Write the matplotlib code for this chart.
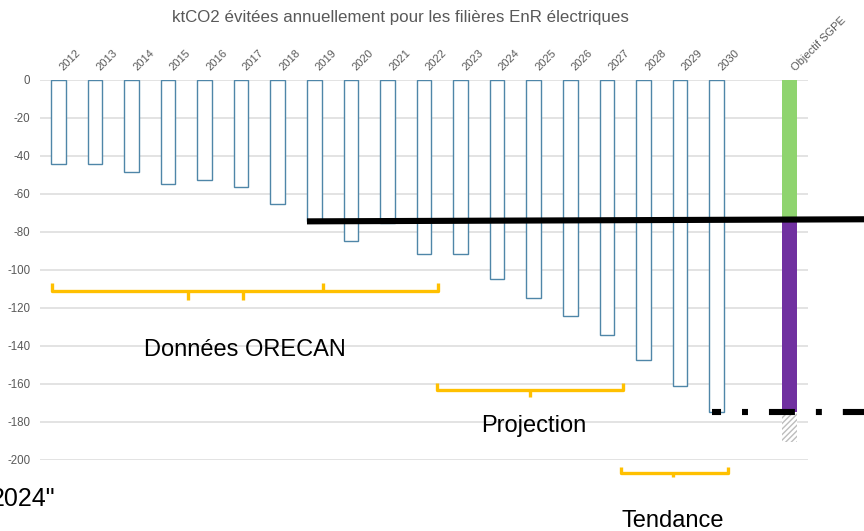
import numpy as np
import matplotlib
matplotlib.use("Agg")
import matplotlib.pyplot as plt
from matplotlib.transforms import ScaledTranslation

plt.rcParams['font.family'] = ['Liberation Sans', 'DejaVu Sans']
plt.rcParams['axes.unicode_minus'] = False
plt.rcParams['lines.scale_dashes'] = False

# donnees (ktCO2, negatif = evite)
years = [str(y) for y in range(2012, 2031)]
avoided = [-44, -44.2, -48.4, -54.7, -52.6, -56.5, -65.3, -74, -84.7, -75.3,
           -91.6, -91.6, -104.7, -114.7, -124.2, -134.2, -147.4, -161, -174.7]
objectif_label = "Objectif SGPE"
objectif_atteint = -73.3     # part verte
objectif_total = -174.7      # bas de la part violette
objectif_marge = -190.4      # bas de la zone hachuree

# ligne noire "niveau 2019" (gauche, droite)
niveau_2019 = [-74.4, -73.3]

# accolades jaunes : (debut, fin, hauteur)
brace_orecan = (-0.17, 10.38, -111.2)
brace_projection = (10.35, 15.43, -163.2)
brace_tendance = (15.39, 18.31, -206.7)

pos = np.arange(len(years))
pos_obj = len(years) + 1

fig = plt.figure(figsize=(8.64, 5.31), dpi=100)
ax = fig.add_axes([40/864, 71/531, 768/864, 380/531])

ax.bar(pos, avoided, width=0.4, facecolor='white', edgecolor='#4f86a8', linewidth=1.0, zorder=3)

ax.bar(pos_obj, objectif_atteint, width=0.4, color='#8fd46f', zorder=3)
ax.bar(pos_obj, objectif_total - objectif_atteint, bottom=objectif_atteint, width=0.4,
       color='#7030a0', zorder=3)
ax.bar(pos_obj, objectif_marge - objectif_total, bottom=objectif_total, width=0.4,
       facecolor='white', edgecolor='#bdbdbd', hatch='//////', linewidth=0, zorder=3)

ax.set_xlim(-0.5, 20.5)
ax.set_ylim(-200, 0)
ax.set_yticks(np.arange(-200, 1, 20))
ax.yaxis.grid(True, color='#dedede', linewidth=1.2)
ax.set_axisbelow(True)
for s in ax.spines.values():
    s.set_visible(False)

ax.xaxis.set_ticks_position('top')
ax.set_xticks(list(pos) + [pos_obj])
ax.set_xticklabels(years + [objectif_label], rotation=45, ha='left', va='bottom',
                   rotation_mode='anchor', fontsize=8, color='#595959')
ax.tick_params(axis='x', length=0, pad=5.2)
ax.tick_params(axis='y', length=0, pad=7, labelsize=8.3, labelcolor='#595959')
# decale les etiquettes des annees vers la droite comme dans Excel
shift = ScaledTranslation(7/100, 0, fig.dpi_scale_trans)
for lbl in ax.get_xticklabels():
    lbl.set_transform(lbl.get_transform() + shift)

# ligne noire pleine depuis 2019
ax.plot([pos[7] - 0.2, 22.1], niveau_2019, color='black', lw=4.4,
        solid_capstyle='butt', clip_on=False, zorder=5)
# ligne tiretee objectif 2030
ax.plot([pos[-1] - 0.13, 22.1], [objectif_total, objectif_total], color='black', lw=4.4,
        linestyle=(12.2, (18.7, 15.1, 4.3, 15.1)), dash_capstyle='butt',
        clip_on=False, zorder=5)


def brace(x0, x1, y, down=(), up=(), tip=4.5, tick=4.7):
    kw = dict(color='#ffc000', lw=2.4, clip_on=False, zorder=6,
              solid_joinstyle='round', solid_capstyle='butt')
    ax.plot([x0, x0, x1, x1], [y + tip, y, y, y + tip], **kw)
    for x in down:
        ax.plot([x, x], [y, y - tick], **kw)
    for x in up:
        ax.plot([x, x], [y, y + tip], **kw)


brace(*brace_orecan, down=(3.55, 5.06), up=(7.24,))
brace(*brace_projection, down=(12.9,), tip=3.9, tick=3.5)
brace(*brace_tendance, down=(16.81,), tip=3.2, tick=2.5)

fig.text(400/864, 1 - 22/531, "ktCO2 évitées annuellement pour les filières EnR électriques",
         ha='center', va='baseline', fontsize=12.2, color='#595959')
fig.text(245/864, 1 - 356/531, "Données ORECAN", ha='center', va='baseline', fontsize=17)
fig.text(534/864, 1 - 432/531, "Projection", ha='center', va='baseline', fontsize=17)
fig.text(673/864, 1 - 527/531, "Tendance", ha='center', va='baseline', fontsize=17)
fig.text(55/864, 1 - 506.5/531, '2024"', ha='right', va='baseline', fontsize=18)

fig.savefig("out.png", dpi=100)
